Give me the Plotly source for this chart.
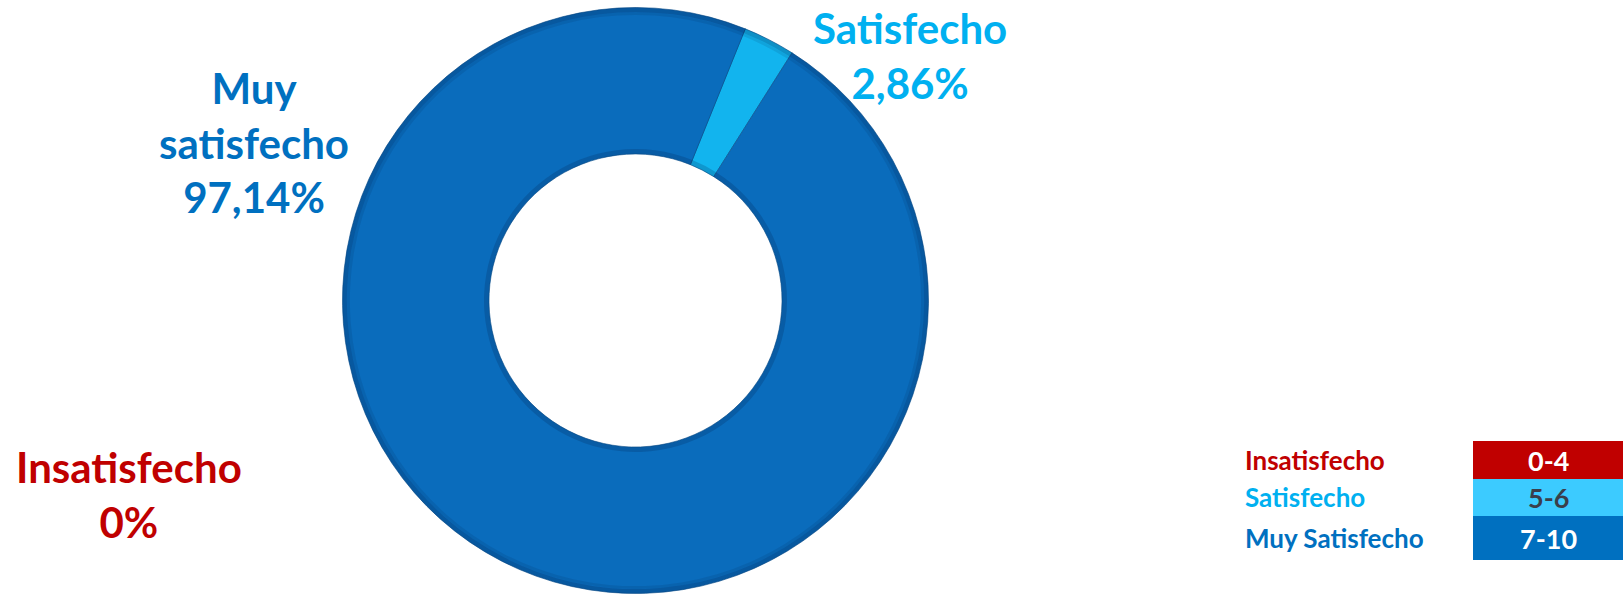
import plotly.graph_objects as go

# Data
categories = ["Insatisfecho", "Satisfecho", "Muy satisfecho"]
percentages = [0.0, 2.86, 97.14]
legend_labels = ["Insatisfecho", "Satisfecho", "Muy Satisfecho"]
legend_ranges = ["0-4", "5-6", "7-10"]

RED = "#C00000"
LIGHT = "#00B0F0"
BLUE = "#0070C0"
slice_colors = [RED, "#12B4EE", "#0A6CBC"]
box_colors = [RED, "#3CCBFF", BLUE]
label_colors = [RED, LIGHT, BLUE]
range_font_colors = ["white", "#3A3F4B", "white"]

W, H = 1623, 596
cx, cy, r = 635.5, 300.5, 293.0
r_in = 146.5

fig = go.Figure()

def dom(rad):
    return dict(x=[(cx - rad) / W, (cx + rad) / W],
                y=[1 - (cy + rad) / H, 1 - (cy - rad) / H])

fig.add_trace(go.Pie(
    labels=categories,
    values=percentages,
    hole=r_in / r,
    sort=False,
    direction="clockwise",
    rotation=22,
    marker=dict(colors=slice_colors, line=dict(color="#0A4F8C", width=0.6)),
    textinfo="none",
    hoverinfo="label+percent",
    showlegend=False,
    domain=dom(r),
))

# subtle bevel shading at outer and inner edges
for rad, hole, alpha in [(r, 0.985, 0.22), (r - 4.5, 0.99, 0.10),
                         (r_in + 5, r_in / (r_in + 5), 0.18)]:
    fig.add_trace(go.Pie(
        labels=categories, values=percentages, hole=hole, sort=False,
        direction="clockwise", rotation=22,
        marker=dict(colors=["rgba(0,20,60,%.2f)" % alpha] * 3, line=dict(width=0)),
        textinfo="none", hoverinfo="skip", showlegend=False,
        domain=dom(rad),
    ))

# Legend (label + coloured range box per category)
row_edges = [441, 479, 516, 560]
box_x0, box_x1, label_x = 1473, 1623, 1243
for i, (lab, rng) in enumerate(zip(legend_labels, legend_ranges)):
    y0, y1 = row_edges[i], row_edges[i + 1]
    ym = (y0 + y1) / 2
    fig.add_shape(type="rect", xref="paper", yref="paper",
                  x0=box_x0 / W, x1=box_x1 / W, y0=1 - y1 / H, y1=1 - y0 / H,
                  fillcolor=box_colors[i], line=dict(width=0), layer="below")
    fig.add_annotation(text="<b>%s</b>" % lab, x=label_x / W, y=1 - ym / H,
                       xref="paper", yref="paper", showarrow=False,
                       xanchor="left", yanchor="middle",
                       font=dict(family="Lato", size=26, color=label_colors[i]))
    fig.add_annotation(text="<b>%s</b>" % rng, x=(box_x0 + box_x1) / 2 / W, y=1 - ym / H,
                       xref="paper", yref="paper", showarrow=False,
                       xanchor="center", yanchor="middle",
                       font=dict(family="Lato", size=27, color=range_font_colors[i]))

def pct(v):
    s = ("%.2f" % v).replace(".", ",")
    if v == 0:
        s = "0"
    return s + "%"

ann_specs = [
    (categories[0] + "<br>" + pct(percentages[0]), 129, 494, RED),
    (categories[1] + "<br>" + pct(percentages[1]), 910, 55.5, LIGHT),
    ("Muy<br>satisfecho<br>" + pct(percentages[2]), 254, 142, BLUE),
]
for text, x, y, col in ann_specs:
    fig.add_annotation(
        text="<b>%s</b>" % text, x=x / W, y=1 - y / H, xref="paper", yref="paper",
        showarrow=False, xanchor="center", yanchor="middle",
        font=dict(family="Lato", size=42, color=col),
    )

fig.update_layout(
    width=W, height=H,
    margin=dict(l=0, r=0, t=0, b=0),
    paper_bgcolor="white",
    plot_bgcolor="white",
)

fig.write_html("out.html", config={"displayModeBar": False},
               post_script="document.body.style.margin='0';document.body.style.overflow='hidden';")
